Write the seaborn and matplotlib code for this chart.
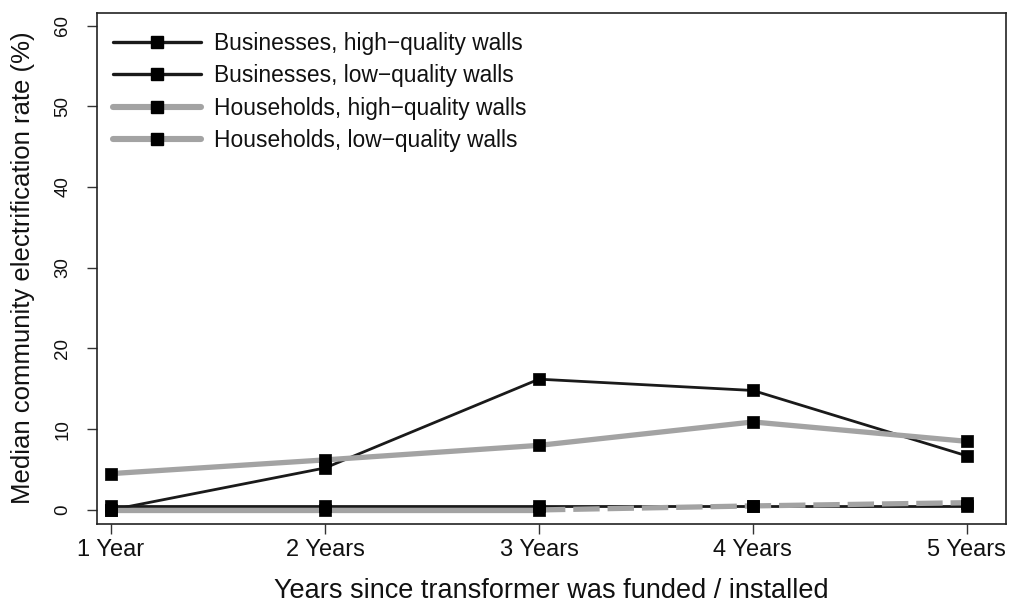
import numpy as np
import pandas as pd
import matplotlib
matplotlib.use('Agg')
import matplotlib.pyplot as plt
import seaborn as sns
from matplotlib.lines import Line2D

# data
years = [1, 2, 3, 4, 5]
year_labels = ['1 Year', '2 Years', '3 Years', '4 Years', '5 Years']
biz_high = [0.0, 5.2, 16.2, 14.8, 6.7]
biz_low = [0.5, 0.5, 0.5, 0.5, 0.5]
hh_high = [4.5, 6.2, 8.0, 10.9, 8.5]
hh_low = [0.0, 0.0, 0.0, 0.5, 0.9]
series_names = ['Businesses, high\u2212quality walls', 'Businesses, low\u2212quality walls',
                'Households, high\u2212quality walls', 'Households, low\u2212quality walls']

sns.set_theme(style='white')
plt.rcParams['font.family'] = ['Liberation Sans', 'DejaVu Sans']

gray = '#a3a3a3'
black = '#1a1a1a'
txt = '#111111'

df = pd.DataFrame({'year': years * 4,
                   'value': biz_high + biz_low + hh_high + hh_low,
                   'series': sum([[s] * 5 for s in series_names], [])})

fig, ax = plt.subplots(figsize=(10.16, 6.04), dpi=100)
fig.subplots_adjust(left=0.0955, right=0.990, top=0.979, bottom=0.133)

# black series first, gray drawn over them
for name in series_names[:2]:
    d = df[df['series'] == name]
    sns.lineplot(data=d, x='year', y='value', ax=ax, color=black, lw=2.0,
                 estimator=None, legend=False)

sns.lineplot(data=df[df['series'] == series_names[2]], x='year', y='value', ax=ax,
             color=gray, lw=3.8, estimator=None, legend=False)

# low-quality households: solid to year 3, dashed afterwards
d = df[df['series'] == series_names[3]]
sns.lineplot(data=d[d['year'] <= 3], x='year', y='value', ax=ax, color=gray, lw=3.8,
             estimator=None, legend=False)
sns.lineplot(data=d[d['year'] >= 3], x='year', y='value', ax=ax, color=gray, lw=3.8,
             estimator=None, legend=False, linestyle=(0, (5.0, 1.5)))

# square markers on top
sns.scatterplot(data=df, x='year', y='value', ax=ax, marker='s', s=70,
                color='black', edgecolor='black', linewidth=0.5, legend=False, zorder=5)

ax.set_xlim(0.9346, 5.182)
ax.set_ylim(-1.7, 61.6)
ax.set_xticks(years)
ax.set_xticklabels(year_labels)
ax.set_yticks(range(0, 61, 10))
ax.set_yticklabels([str(v) for v in range(0, 61, 10)], rotation=90, va='center')
ax.tick_params(axis='both', direction='out', length=7.5, width=1, color='#333333',
               labelcolor=txt, bottom=True, left=True)
ax.tick_params(axis='x', labelsize=17, pad=3.5)
ax.tick_params(axis='y', labelsize=13.5, pad=11)

ax.set_xlabel('Years since transformer was funded / installed', fontsize=19.5,
              color=txt, labelpad=12)
ax.set_ylabel('Median community electrification rate (%)', fontsize=18.5,
              color=txt, labelpad=14)

for sp in ax.spines.values():
    sp.set_color('#222222')
    sp.set_linewidth(1.2)

handles = [
    Line2D([], [], color=black, lw=2.4, marker='s', ms=8.5, mfc='black', mec='black'),
    Line2D([], [], color=black, lw=2.4, marker='s', ms=8.5, mfc='black', mec='black'),
    Line2D([], [], color=gray, lw=4.4, marker='s', ms=8.5, mfc='black', mec='black'),
    Line2D([], [], color=gray, lw=4.4, marker='s', ms=8.5, mfc='black', mec='black'),
]
ax.legend(handles, series_names, loc='upper left', frameon=False, fontsize=16.4,
          handlelength=3.86, handletextpad=0.6, labelspacing=0.42,
          bbox_to_anchor=(-0.0035, 1.0), borderaxespad=0.43, labelcolor=txt)

fig.savefig('out.png', dpi=100, facecolor='white')
